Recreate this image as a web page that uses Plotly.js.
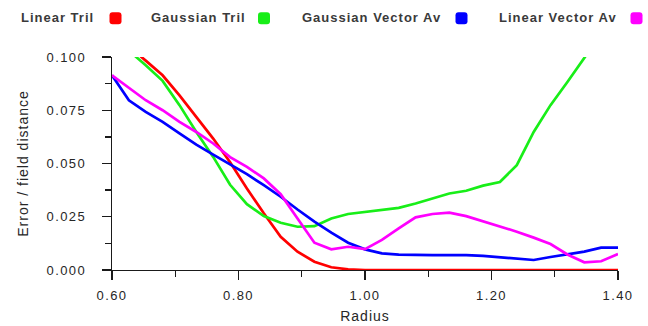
<!DOCTYPE html>
<html>
<head>
<meta charset="utf-8">
<script src="https://cdn.plot.ly/plotly-3.0.1.min.js"></script>
<style>
  html, body { margin: 0; padding: 0; background: #fff; }
  #chart { width: 648px; height: 326px; }
  svg text { letter-spacing: 1px; }
  svg .xtick text, svg .ytick text { letter-spacing: 1.4px; }
</style>
</head>
<body>
<div id="chart"></div>
<script>
// Radius samples (31 steps from 0.60 to 1.40)
const radius = [0.6000, 0.6267, 0.6533, 0.6800, 0.7067, 0.7333, 0.7600, 0.7867, 0.8133, 0.8400,
                0.8667, 0.8933, 0.9200, 0.9467, 0.9733, 1.0000, 1.0267, 1.0533, 1.0800, 1.1067,
                1.1333, 1.1600, 1.1867, 1.2133, 1.2400, 1.2667, 1.2933, 1.3200, 1.3467, 1.3733, 1.4000];

const linearTril = [0.111, 0.105, 0.0983, 0.0914, 0.0820, 0.0719, 0.0617, 0.0506, 0.0383, 0.0266,
                    0.0156, 0.0086, 0.0039, 0.0013, 0.0003, 0, 0, 0, 0, 0,
                    0, 0, 0, 0, 0, 0, 0, 0, 0, 0, 0];

const gaussianTril = [0.109, 0.103, 0.0961, 0.0888, 0.0774, 0.0648, 0.0531, 0.0400, 0.0309, 0.0253,
                      0.0222, 0.0203, 0.0206, 0.0242, 0.0263, 0.0272, 0.0283, 0.0292, 0.0312, 0.0336,
                      0.0359, 0.0372, 0.0396, 0.0413, 0.0492, 0.0648, 0.0774, 0.0883, 0.0998, 0.111, 0.122];

const gaussianVectorAv = [0.0914, 0.0797, 0.0742, 0.0695, 0.0641, 0.0589, 0.0542, 0.0495, 0.0450, 0.0398,
                          0.0344, 0.0284, 0.0227, 0.0175, 0.0128, 0.0097, 0.0078, 0.0072, 0.0070, 0.0070,
                          0.0070, 0.0070, 0.0066, 0.0059, 0.0053, 0.0047, 0.0061, 0.0073, 0.0086, 0.0105, 0.0105];

const linearVectorAv = [0.0914, 0.0855, 0.0797, 0.0750, 0.0695, 0.0648, 0.0594, 0.0530, 0.0484, 0.0430,
                        0.0356, 0.0242, 0.0128, 0.0097, 0.0109, 0.0098, 0.0141, 0.0195, 0.0247, 0.0263,
                        0.0269, 0.0253, 0.0229, 0.0206, 0.0180, 0.0152, 0.0122, 0.0073, 0.0036, 0.0041, 0.0075];

const seriesNames = ['Linear Tril', 'Gaussian Tril', 'Gaussian Vector Av', 'Linear Vector Av'];
const seriesColors = ['#ff0000', '#18ee18', '#0000ff', '#ff00ff'];
const seriesValues = [linearTril, gaussianTril, gaussianVectorAv, linearVectorAv];

const xTickVals = [0.6, 0.8, 1.0, 1.2, 1.4];
const xTickText = ['0.60', '0.80', '1.00', '1.20', '1.40'];
const yTickVals = [0, 0.025, 0.05, 0.075, 0.1];
const yTickText = ['0.000', '0.025', '0.050', '0.075', '0.100'];

const FONT = 'Liberation Sans, Arial, sans-serif';
const INK = '#262626';
const AXIS = '#1a1a1a';

const traces = seriesValues.map((vals, k) => ({
  type: 'scatter',
  mode: 'lines',
  x: radius,
  y: vals,
  name: seriesNames[k],
  line: { color: seriesColors[k], width: 2.7 },
  showlegend: false,
  hoverinfo: 'skip'
}));

// Legend row: label followed by a rounded colour swatch
const legendTextRight = [96, 248, 443, 619];   // px, right edge of each label
const legendSwatchLeft = [109.5, 258, 455.5, 630.5];
const plotL = 112, plotR = 618, plotT = 57, plotB = 270;
const pxToPaperX = px => (px - plotL) / (plotR - plotL);
const pxToPaperY = py => (plotB - py) / (plotB - plotT);

const annotations = seriesNames.map((name, k) => ({
  xref: 'paper', yref: 'paper',
  x: pxToPaperX(legendTextRight[k]), y: pxToPaperY(17.5),
  xanchor: 'right', yanchor: 'middle',
  text: name, showarrow: false,
  font: { family: FONT, size: 13, color: '#3a3a3a', weight: 'bold' }
}));

const r = 3, s = 12;
const roundSq = `M ${r},0 L ${s - r},0 Q ${s},0 ${s},${r} L ${s},${s - r} Q ${s},${s} ${s - r},${s} ` +
                `L ${r},${s} Q 0,${s} 0,${s - r} L 0,${r} Q 0,0 ${r},0 Z`;
const shapes = seriesColors.map((c, k) => ({
  type: 'path',
  xref: 'paper', yref: 'paper',
  xsizemode: 'pixel', ysizemode: 'pixel',
  xanchor: pxToPaperX(legendSwatchLeft[k]),
  yanchor: pxToPaperY(24.3),
  path: roundSq,
  fillcolor: c,
  line: { width: 0 }
}));

const axisCommon = {
  showgrid: false,
  zeroline: false,
  showline: true,
  linecolor: AXIS,
  linewidth: 1.3,
  ticks: 'outside',
  ticklen: 9,
  tickwidth: 1.3,
  tickcolor: AXIS,
  tickfont: { family: FONT, size: 13, color: INK },
  layer: 'below traces',
  fixedrange: true
};

const layout = {
  width: 648,
  height: 326,
  margin: { l: plotL, r: 648 - plotR, t: plotT, b: 326 - plotB },
  paper_bgcolor: '#ffffff',
  plot_bgcolor: '#ffffff',
  showlegend: false,
  xaxis: Object.assign({}, axisCommon, {
    range: [0.6, 1.4],
    tickmode: 'array',
    tickvals: xTickVals,
    ticktext: xTickText,
    ticklabelstandoff: 4,
    minor: { dtick: 0.1, tick0: 0.6, ticks: 'outside', ticklen: 6, tickwidth: 1.3, tickcolor: AXIS, showgrid: false },
    title: { text: 'Radius', font: { family: FONT, size: 14, color: INK }, standoff: 9 }
  }),
  yaxis: Object.assign({}, axisCommon, {
    range: [0, 0.1],
    tickmode: 'array',
    tickvals: yTickVals,
    ticktext: yTickText,
    ticklabelstandoff: 13,
    minor: { dtick: 0.0125, tick0: 0, ticks: 'outside', ticklen: 6, tickwidth: 1.3, tickcolor: AXIS, showgrid: false },
    title: { text: 'Error / field distance', font: { family: FONT, size: 14, color: INK }, standoff: 14 }
  }),
  annotations: annotations,
  shapes: shapes
};

Plotly.newPlot('chart', traces, layout, { staticPlot: true, displayModeBar: false });
</script>
</body>
</html>
